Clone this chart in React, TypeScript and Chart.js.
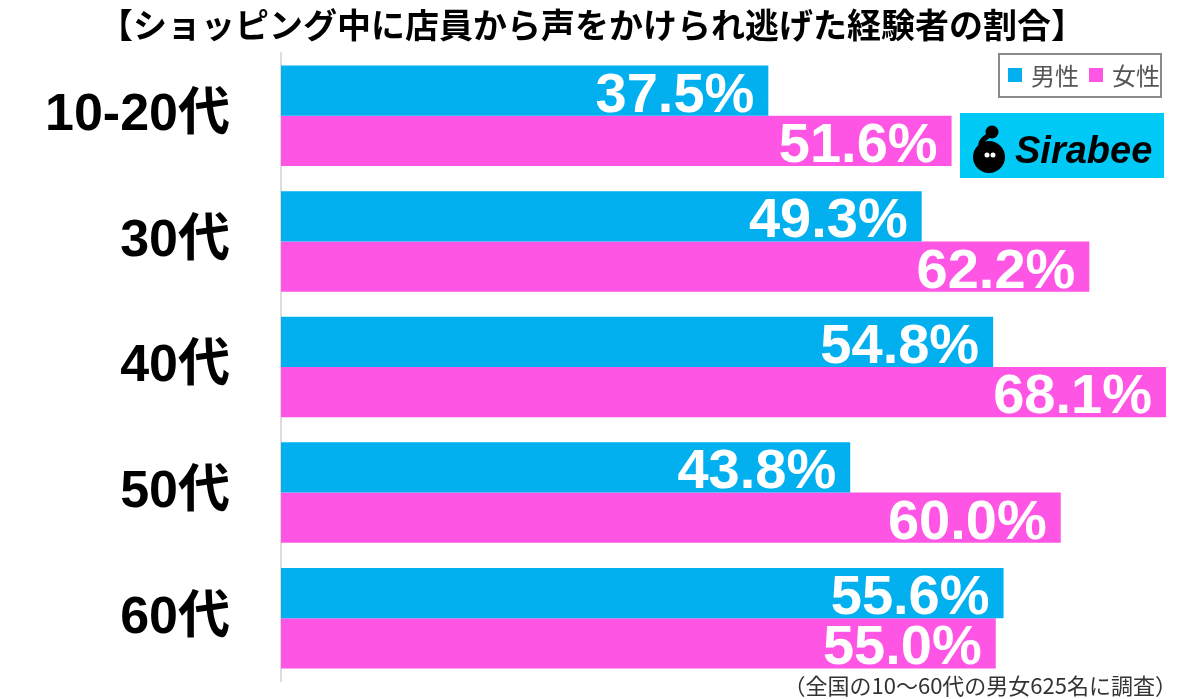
import React, { useEffect, useRef } from "react";
import { Chart, registerables } from "chart.js";

Chart.register(...registerables);

const categories = ["10-20代", "30代", "40代", "50代", "60代"];
const seriesNames = ["男性", "女性"];
const maleValues = [37.5, 49.3, 54.8, 43.8, 55.6];
const femaleValues = [51.6, 62.2, 68.1, 60.0, 55.0];
const titleText = "【ショッピング中に店員から声をかけられ逃げた経験者の割合】";
const footnoteText = "（全国の10～60代の男女625名に調査）";
const xMax = 68.1;

const BLUE = "#02B0F0";
const PINK = "#FF55E5";
const LOGO_CYAN = "#00C9F5";
const CJK = "'Noto Sans CJK JP', 'Noto Sans', sans-serif";
const LATIN_BOLD = "'Liberation Sans', Arial, 'Noto Sans CJK JP', sans-serif";

const overlayPlugin = {
  id: "overlay",
  afterDatasetsDraw(chart: any) {
    const ctx = chart.ctx;
    ctx.save();
    ctx.fillStyle = "#ffffff";
    ctx.font = `bold 56px ${LATIN_BOLD}`;
    ctx.textAlign = "right";
    ctx.textBaseline = "alphabetic";
    chart.data.datasets.forEach((ds: any, di: number) => {
      const meta = chart.getDatasetMeta(di);
      meta.data.forEach((bar: any, i: number) => {
        const v = ds.data[i] as number;
        ctx.fillText(v.toFixed(1) + "%", bar.x - 14, bar.y + 21);
      });
    });
    ctx.restore();
  },
  afterDraw(chart: any) {
    const ctx = chart.ctx;
    ctx.save();
    // Title
    ctx.fillStyle = "#000";
    ctx.font = `bold 34px ${CJK}`;
    ctx.textAlign = "center";
    ctx.textBaseline = "middle";
    ctx.fillText(titleText, 592, 25);

    // Footnote
    ctx.fillStyle = "#333";
    ctx.font = `22px ${CJK}`;
    ctx.textAlign = "right";
    ctx.fillText(footnoteText, 1177, 686);

    // Legend
    ctx.strokeStyle = "#8a8a8a";
    ctx.lineWidth = 2;
    ctx.strokeRect(999, 54, 162, 43);
    const colors = [BLUE, PINK];
    const sx = [1008, 1089];
    ctx.font = `24px ${CJK}`;
    ctx.textAlign = "left";
    ctx.textBaseline = "middle";
    seriesNames.forEach((n, i) => {
      ctx.fillStyle = colors[i];
      ctx.fillRect(sx[i], 68, 14, 14);
      ctx.fillStyle = "#555";
      ctx.fillText(n, sx[i] + 23, 76);
    });

    // Logo
    ctx.fillStyle = LOGO_CYAN;
    ctx.fillRect(960, 113, 204, 65);
    ctx.fillStyle = "#000";
    ctx.beginPath();
    ctx.arc(989, 157, 16, 0, Math.PI * 2);
    ctx.fill();
    ctx.beginPath();
    ctx.arc(992, 132, 6.5, 0, Math.PI * 2);
    ctx.fill();
    ctx.strokeStyle = "#000";
    ctx.lineWidth = 5;
    ctx.beginPath();
    ctx.moveTo(988, 136);
    ctx.quadraticCurveTo(978, 142, 982, 150);
    ctx.stroke();
    ctx.fillStyle = "#fff";
    ctx.beginPath();
    ctx.arc(987, 155, 2.5, 0, Math.PI * 2);
    ctx.arc(993, 155, 2.5, 0, Math.PI * 2);
    ctx.fill();
    ctx.fillStyle = "#000";
    ctx.font = `italic bold 38px ${LATIN_BOLD}`;
    ctx.textAlign = "left";
    ctx.textBaseline = "alphabetic";
    ctx.fillText("Sirabee", 1015, 163);
    ctx.restore();
  },
};

export default function App() {
  const ref = useRef<HTMLCanvasElement | null>(null);
  useEffect(() => {
    if (!ref.current) return;
    const chart = new Chart(ref.current, {
      type: "bar",
      data: {
        labels: categories,
        datasets: [
          {
            label: seriesNames[0],
            data: maleValues,
            backgroundColor: BLUE,
            categoryPercentage: 0.8,
            barPercentage: 1.0,
          },
          {
            label: seriesNames[1],
            data: femaleValues,
            backgroundColor: PINK,
            categoryPercentage: 0.8,
            barPercentage: 1.0,
          },
        ],
      },
      options: {
        indexAxis: "y",
        animation: false,
        responsive: false,
        maintainAspectRatio: false,
        layout: { padding: { top: 53, bottom: 18, right: 34, left: 0 } },
        scales: {
          x: { display: false, min: 0, max: xMax },
          y: {
            grid: { display: false, drawTicks: false },
            border: { display: true, color: "#dddddd", width: 2 },
            ticks: {
              color: "#000",
              font: { family: LATIN_BOLD, size: 52, weight: "bold" },
              padding: 51,
              autoSkip: false,
            },
            afterFit: (s: any) => {
              s.width = 281;
              s.paddingTop = 0;
              s.paddingBottom = 0;
            },
          },
        },
        plugins: {
          legend: { display: false },
          title: { display: false },
          tooltip: { enabled: false },
        },
      } as any,
      plugins: [overlayPlugin],
    });
    return () => chart.destroy();
  }, []);
  return (
    <div style={{ position: "absolute", left: 0, top: 0, width: 1200, height: 699, background: "#fff" }}>
      <canvas ref={ref} width={1200} height={699} />
    </div>
  );
}
